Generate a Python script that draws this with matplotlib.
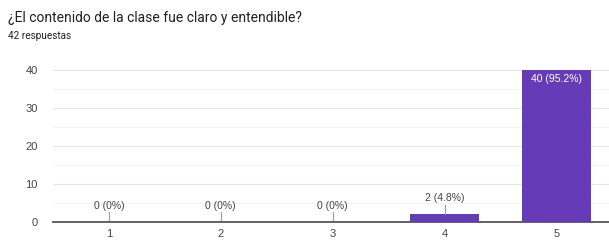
import matplotlib
matplotlib.use("Agg")
import matplotlib.pyplot as plt
import numpy as np

# data
categories = ["1", "2", "3", "4", "5"]
counts = [0, 0, 0, 2, 40]
labels = ["0 (0%)", "0 (0%)", "0 (0%)", "2 (4.8%)", "40 (95.2%)"]
title = "¿El contenido de la clase fue claro y entendible?"
subtitle = "42 respuestas"

purple = "#673ab7"
text_gray = "#444444"

fig = plt.figure(figsize=(6.09, 2.4), dpi=100)
fig.text(8 / 609, 1 - 18 / 240, title, fontsize=10, family="Roboto",
         color="#202124", va="center", ha="left")
fig.text(8 / 609, 1 - 36 / 240, subtitle, fontsize=7.2, family="Roboto",
         color="#202124", va="center", ha="left")

# plot area: left 53px, top 70px, bottom 222px
ax = fig.add_axes([53 / 609, 1 - 222 / 240, 1 - 53 / 609, 152 / 240])
x = np.arange(len(categories))
ax.bar(x, counts, width=0.62, color=purple, zorder=3)

ax.set_xlim(-0.5, 4.47)
ax.set_ylim(0, 40)
ax.set_yticks([0, 10, 20, 30, 40])
ax.set_yticks([5, 15, 25, 35], minor=True)
ax.set_xticks(x)
ax.set_xticklabels(categories)
ax.grid(axis="y", which="major", color="#e6e6e6", lw=0.8, zorder=0)
ax.grid(axis="y", which="minor", color="#f3f3f3", lw=0.8, zorder=0)
for s in ["top", "right", "left"]:
    ax.spines[s].set_visible(False)
ax.spines["bottom"].set_color("#555555")
ax.spines["bottom"].set_linewidth(1.3)
ax.spines["bottom"].set_zorder(4)
ax.tick_params(axis="both", which="both", length=0, labelsize=8,
               labelcolor=text_gray)
ax.tick_params(axis="y", pad=11)
ax.tick_params(axis="x", pad=5)
for t in ax.get_xticklabels() + ax.get_yticklabels():
    t.set_family("Liberation Sans")

for xi, c, lab in zip(x, counts, labels):
    if c >= 10:
        ax.text(xi, c - 1.0, lab, ha="center", va="top", fontsize=7.5,
                color="white", family="Liberation Sans", zorder=5)
    else:
        ax.plot([xi, xi], [c, c + 2.6], color="#999999", lw=0.8, zorder=4)
        ax.text(xi, c + 3.0, lab, ha="center", va="bottom", fontsize=7.5,
                color=text_gray, family="Liberation Sans", zorder=5)

fig.savefig("out.png", dpi=100)
